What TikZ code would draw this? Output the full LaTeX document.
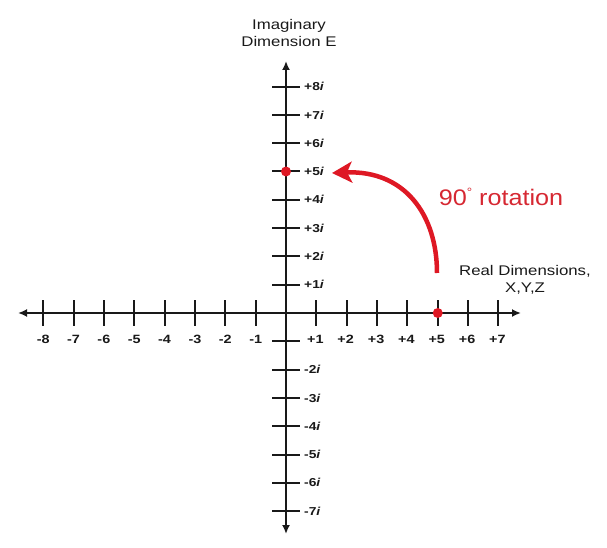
\documentclass[tikz,border=0pt]{standalone}
\usepackage{fontspec}
\setmainfont{Liberation Sans}[FakeStretch=1.2]
\newfontfamily\rotfont{Liberation Sans}[FakeStretch=1.12]
\usetikzlibrary{arrows.meta}
\definecolor{myred}{RGB}{222,24,36}
\definecolor{txtred}{RGB}{214,40,50}
\definecolor{axisc}{RGB}{25,25,25}
\begin{document}
\begin{tikzpicture}[x=1pt,y=-1pt,
  axis/.style={line width=2pt,draw=axisc,-{Latex[length=9pt,width=8pt]}},
  tickln/.style={line width=2pt,draw=axisc},
  xlab/.style={font=\bfseries\fontsize{12}{14}\selectfont,text=axisc,inner sep=0pt},
  ylab/.style={font=\bfseries\fontsize{11.5}{14}\selectfont,text=axisc,inner sep=0pt,anchor=west},
  ttl/.style={font=\fontsize{14}{17.5}\selectfont,text=axisc,align=center,inner sep=0pt},
  rdot/.style={circle,fill=myred,inner sep=0pt,minimum size=10pt}]
\useasboundingbox (0,0) rectangle (607,548);
\coordinate (O) at (286,313);
\coordinate (L) at (18,313);
\coordinate (R) at (521,313);
\coordinate (T) at (286,61);
\coordinate (B) at (286,534);
\draw[axis] (O) -- (L);
\draw[axis] (O) -- (R);
\draw[axis] (O) -- (T);
\draw[axis] (O) -- (B);
% x ticks
\foreach \k in {-8,...,-1,1,2,...,7} {
  \pgfmathsetmacro{\xx}{round(286+30.35*\k)}
  \draw[tickln] (\xx,300) -- (\xx,326);
}
\foreach \k in {-8,...,-1} {
  \node[xlab] (xl\k) at ({286+30.35*\k},339) {-\the\numexpr-\k\relax};
}
\foreach \k in {1,...,7} {
  \node[xlab] (xlp\k) at ({286+30.35*\k-1},339) {+\k};
}
% y ticks
\foreach \k in {-7,...,-1,1,2,...,8} {
  \pgfmathsetmacro{\yy}{round(313-28.3*\k)}
  \draw[tickln] (272,\yy) -- (300,\yy);
}
\foreach \k in {1,...,8} {
  \node[ylab] (ylp\k) at (304,{313-28.3*\k}) {+\k\textit{i}};
}
\foreach \k in {-7,...,-2} {
  \node[ylab] (yl\k) at (304,{313-28.3*\k}) {-\the\numexpr-\k\relax\textit{i}};
}
% titles
\node[ttl] (imag) at (289,33) {Imaginary\\Dimension E};
\node[ttl] (real) at (525,280) {Real Dimensions,\\X,Y,Z};
% dots
\node[rdot] (p5) at (286,171.5) {};
\node[rdot] (r5) at (437.75,313) {};
% rotation arrow
\coordinate (as) at (437,273);
\coordinate (ae) at (332,173);
\draw[myred,line width=4.5pt,-{Stealth[length=20pt,width=21pt,inset=5pt]}]
  (as) .. controls (437,215) and (405,170) .. (ae);
\node[font=\rotfont\fontsize{22.5}{26}\selectfont,text=txtred,inner sep=0pt] (rot) at (501,197) {90\raisebox{0.42em}{\fontsize{12}{12}\selectfont °} rotation};
\end{tikzpicture}
\end{document}
